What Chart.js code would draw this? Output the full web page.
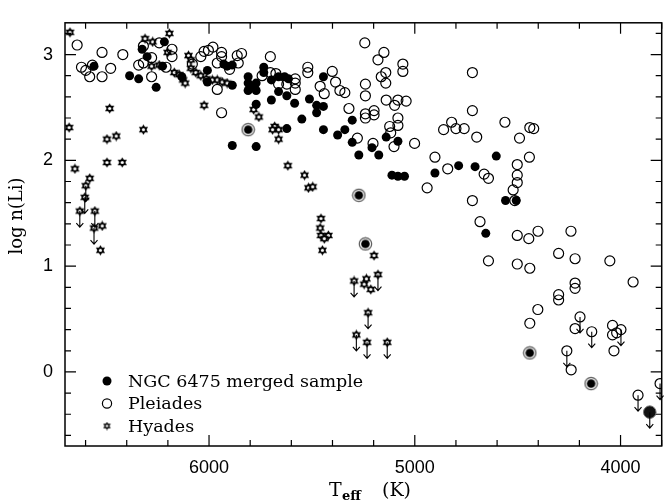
<!DOCTYPE html>
<html>
<head>
<meta charset="utf-8">
<script src="https://cdn.jsdelivr.net/npm/chart.js@4.4.1/dist/chart.umd.min.js"></script>
<style>
  body { margin: 0; background: #fff; }
</style>
</head>
<body>
<canvas id="li-chart" width="669" height="501"></canvas>
<script>
// NGC 6475 merged sample
const ngcTeff = [6559, 6386, 6342, 6257, 6325, 6301, 6217, 6226, 6132, 6008, 6008, 5887, 5928, 5912, 5887,
  5810, 5810, 5810, 5771, 5771, 5792, 5771, 5887, 5771, 5622, 5734, 5734, 5697, 5662, 5633, 5614, 5662,
  5622, 5697, 5584, 5549, 5512, 5477, 5444, 5477, 5444, 5304, 5444, 5375, 5340, 5304, 5272, 5139, 5082,
  5208, 5175, 5111, 5082, 5050, 4902, 4787, 4707, 4604, 4655, 4559, 4507];
const ngcLogLi = [2.89, 2.80, 2.77, 2.69, 3.05, 2.98, 3.12, 2.89, 2.79, 2.85, 2.74, 2.71, 2.91, 2.89, 2.90,
  2.79, 2.73, 2.66, 2.73, 2.66, 2.69, 2.53, 2.14, 2.13, 2.30, 2.88, 2.83, 2.76, 2.79, 2.79, 2.77, 2.65,
  2.61, 2.57, 2.54, 2.39, 2.58, 2.52, 2.51, 2.45, 2.79, 2.38, 2.29, 2.24, 2.29, 2.17, 2.05, 2.22, 2.18,
  2.12, 2.05, 1.86, 1.85, 1.85, 1.88, 1.95, 1.94, 2.04, 1.31, 1.62, 1.62];
// NGC 6475 stars drawn with a ring
const ngcRingTeff = [5810, 5272, 5240, 4441, 4143];
const ngcRingLogLi = [2.29, 1.67, 1.21, 0.18, -0.11];
// NGC 6475 upper limit
const ngcLimTeff = [3858];
const ngcLimLogLi = [-0.38];

// Pleiades
const pleTeff = [6641, 6620, 6599, 6580, 6567, 6520, 6520, 6478, 6419, 6279, 6342, 6319, 6319, 6279, 6242,
  6180, 6180, 6209, 6081, 6040, 6024, 6003, 5981, 5939, 5939, 5960, 5900, 5858, 5863, 5842, 5960, 5939,
  5702, 5742, 5702, 5675, 5662, 5622, 5581, 5581, 5581, 5520, 5520, 5460, 5440, 5401, 5385, 5364, 5340,
  5320, 5279, 5243, 5240, 5240, 5240, 5240, 5198, 5198, 5179, 5150, 5163, 5141, 5141, 5139, 5098, 5082,
  5042, 5058, 5058, 5082, 5082, 5122, 5117, 5101, 5203, 5001, 4720, 4720, 4821, 4860, 4800, 4760, 4699,
  4562, 4441, 4422, 4491, 4902, 4443, 4502, 4840, 4663, 4642, 4502, 4502, 4522, 4514, 4940, 4720, 4683,
  4502, 4446, 4401, 4241, 4642, 4502, 4441, 4301, 4221, 4052, 4221, 4221, 3939, 4301, 4301, 4402, 4441,
  4221, 4240, 4039, 4039, 4019, 4032];
const pleLogLi = [3.09, 2.88, 2.85, 2.79, 2.90, 3.02, 2.79, 2.87, 3.00, 2.79, 2.90, 2.92, 3.08, 2.97, 3.11,
  3.05, 2.98, 2.88, 2.91, 2.98, 3.03, 3.04, 3.07, 3.02, 2.98, 2.92, 2.86, 2.92, 2.99, 3.01, 2.67, 2.45,
  2.98, 2.80, 2.83, 2.82, 2.72, 2.72, 2.77, 2.73, 2.67, 2.88, 2.83, 2.70, 2.63, 2.84, 2.74, 2.66, 2.64,
  2.49, 2.21, 3.11, 2.72, 2.61, 2.44, 2.40, 2.47, 2.43, 2.95, 3.02, 2.79, 2.83, 2.73, 2.57, 2.52, 2.57,
  2.56, 2.91, 2.84, 2.40, 2.33, 2.32, 2.26, 2.13, 2.16, 2.16, 2.83, 2.47, 2.36, 2.29, 2.30, 2.30, 2.22,
  2.36, 2.31, 2.30, 2.21, 2.03, 2.03, 1.96, 1.92, 1.87, 1.83, 1.86, 1.79, 1.72, 1.62, 1.74, 1.62, 1.42,
  1.29, 1.26, 1.33, 1.33, 1.05, 1.02, 0.98, 1.12, 1.07, 1.05, 0.84, 0.79, 0.85, 0.73, 0.68, 0.59, 0.46,
  0.41, 0.02, 0.44, 0.35, 0.37, 0.20];
const pleLimTeff = [4197, 4140, 4261, 3998, 3915, 3808];
const pleLimLogLi = [0.52, 0.38, 0.20, 0.40, -0.22, -0.11];

// Hyades
const hyaTeff = [6676, 6311, 6274, 6193, 6201, 6279, 6242, 6169, 6145, 6126, 6116, 6100, 6088, 6088, 6064,
  6040, 6013, 5984, 5960, 5936, 5912, 6024, 6483, 6680, 6496, 6451, 6319, 6496, 6422, 6652, 6580, 6519,
  6528, 5783, 5758, 5681, 5691, 5662, 5662, 5617, 5536, 5517, 5496, 5456, 5460, 5456, 5420, 5440, 5449,
  5198, 5246, 5235, 5214];
const hyaLogLi = [3.21, 3.15, 3.12, 3.20, 3.02, 2.89, 2.90, 2.83, 2.81, 2.76, 2.73, 2.99, 2.95, 2.87, 2.83,
  2.80, 2.77, 2.76, 2.76, 2.74, 2.73, 2.52, 2.49, 2.31, 2.20, 2.23, 2.29, 1.98, 1.98, 1.92, 1.83, 1.38,
  1.15, 2.48, 2.41, 2.32, 2.29, 2.29, 2.20, 1.95, 1.86, 1.74, 1.75, 1.45, 1.36, 1.29, 1.29, 1.26, 1.15,
  1.10, 0.83, 0.88, 0.78];
const hyaLimTeff = [6599, 6604, 6628, 6555, 6559, 5295, 5179, 5227, 5284, 5232, 5134];
const hyaLimLogLi = [1.76, 1.65, 1.52, 1.52, 1.36, 0.86, 0.92, 0.56, 0.35, 0.28, 0.28];

const xTicks = [4000, 5000, 6000];
const yTicks = [0, 1, 2, 3];

function pts(xs, ys) {
  return xs.map((x, i) => ({ x: x, y: ys[i] }));
}

function makeStar(size) {
  const c = document.createElement('canvas');
  c.width = c.height = size;
  const g = c.getContext('2d');
  const m = size / 2, r = size / 2 - 0.2;
  g.fillStyle = '#000';
  [0, Math.PI / 3].forEach(off => {
    g.beginPath();
    for (let k = 0; k < 3; k++) {
      const a = -Math.PI / 2 + off + k * 2 * Math.PI / 3;
      g.lineTo(m + r * Math.cos(a), m + r * Math.sin(a));
    }
    g.closePath();
    g.fill();
  });
  g.fillStyle = '#fff';
  g.beginPath();
  g.arc(m, m, r * 0.3, 0, 2 * Math.PI);
  g.fill();
  return c;
}

function makeRing() {
  const c = document.createElement('canvas');
  c.width = c.height = 15;
  const g = c.getContext('2d');
  g.strokeStyle = '#555';
  g.lineWidth = 1.2;
  g.beginPath();
  g.arc(7.5, 7.5, 6.2, 0, 2 * Math.PI);
  g.stroke();
  g.fillStyle = '#000';
  g.beginPath();
  g.arc(7.5, 7.5, 4.3, 0, 2 * Math.PI);
  g.fill();
  return c;
}

const starImg = makeStar(11);
const legendStar = makeStar(9);
const ringImg = makeRing();

// frame with inward ticks on all sides, plus axis titles and legend
const framePlugin = {
  id: 'frame',
  afterDraw(chart) {
    const { ctx, chartArea: a, scales: { x, y } } = chart;
    ctx.save();
    ctx.strokeStyle = '#000';
    ctx.lineWidth = 1.5;
    ctx.strokeRect(a.left, a.top, a.right - a.left, a.bottom - a.top);
    ctx.lineWidth = 1.2;
    ctx.beginPath();
    for (let t = 3800; t <= 6700; t += 200) {
      const px = x.getPixelForValue(t);
      const len = t % 1000 === 0 ? 11 : 6;
      ctx.moveTo(px, a.bottom); ctx.lineTo(px, a.bottom - len);
      ctx.moveTo(px, a.top); ctx.lineTo(px, a.top + len);
    }
    for (let k = -3; k <= 16; k++) {
      const py = y.getPixelForValue(k / 5);
      const len = k % 5 === 0 ? 11 : 6;
      ctx.moveTo(a.left, py); ctx.lineTo(a.left + len, py);
      ctx.moveTo(a.right, py); ctx.lineTo(a.right - len, py);
    }
    ctx.stroke();

    // axis titles
    ctx.fillStyle = '#000';
    ctx.textBaseline = 'alphabetic';
    ctx.font = '19px "DejaVu Serif"';
    ctx.fillText('T', 329, 496);
    ctx.fillText('(K)', 382, 496);
    ctx.font = 'bold 13px "DejaVu Serif"';
    ctx.fillText('eff', 342, 500);
    ctx.save();
    ctx.translate(22, 216);
    ctx.rotate(-Math.PI / 2);
    ctx.textAlign = 'center';
    ctx.font = '18px "DejaVu Serif"';
    ctx.fillText('log n(Li)', 0, 0);
    ctx.restore();

    // legend
    ctx.font = '17.5px "DejaVu Serif"';
    ctx.textBaseline = 'middle';
    ctx.beginPath();
    ctx.arc(107, 381, 4.5, 0, 2 * Math.PI);
    ctx.fill();
    ctx.lineWidth = 1.2;
    ctx.beginPath();
    ctx.arc(107, 403.5, 4.6, 0, 2 * Math.PI);
    ctx.stroke();
    ctx.drawImage(legendStar, 107 - 4.5, 426 - 4.5);
    ctx.fillText('NGC 6475 merged sample', 128, 382);
    ctx.fillText('Pleiades', 128, 404.5);
    ctx.fillText('Hyades', 128, 427);
    ctx.restore();
  }
};

// down arrows for upper limits
const arrowPlugin = {
  id: 'arrows',
  afterDatasetsDraw(chart) {
    const ctx = chart.ctx;
    ctx.save();
    ctx.beginPath();
    chart.getSortedVisibleDatasetMetas().forEach(meta => {
      if (!meta._dataset.limit) return;
      meta.data.forEach(p => {
        ctx.moveTo(p.x, p.y);
        ctx.lineTo(p.x, p.y + 16);
        ctx.moveTo(p.x - 3.5, p.y + 12);
        ctx.lineTo(p.x, p.y + 16);
        ctx.lineTo(p.x + 3.5, p.y + 12);
      });
    });
    ctx.strokeStyle = '#000';
    ctx.lineWidth = 1.1;
    ctx.stroke();
    ctx.restore();
  }
};

const openCircle = {
  pointStyle: 'circle',
  pointRadius: 5,
  backgroundColor: 'rgba(0,0,0,0)',
  borderColor: '#000',
  borderWidth: 1.2
};

let lichart = new Chart(document.getElementById('li-chart'), {
  type: 'scatter',
  data: {
    datasets: [
      { label: 'NGC 6475 merged sample', data: pts(ngcTeff, ngcLogLi), pointRadius: 4.5,
        backgroundColor: '#000', borderColor: '#000', borderWidth: 0 },
      { label: 'NGC ring', data: pts(ngcRingTeff, ngcRingLogLi), pointStyle: ringImg },
      { label: 'NGC limit', data: pts(ngcLimTeff, ngcLimLogLi), pointRadius: 6.3, limit: true,
        backgroundColor: '#111', borderColor: '#777', borderWidth: 1 },
      Object.assign({ label: 'Pleiades', data: pts(pleTeff, pleLogLi) }, openCircle),
      Object.assign({ label: 'Pleiades limit', data: pts(pleLimTeff, pleLimLogLi), limit: true }, openCircle),
      { label: 'Hyades', data: pts(hyaTeff, hyaLogLi), pointStyle: starImg },
      { label: 'Hyades limit', data: pts(hyaLimTeff, hyaLimLogLi), pointStyle: starImg, limit: true }
    ]
  },
  options: {
    responsive: false,
    animation: false,
    events: [],
    layout: { padding: { left: 0, right: 4, top: 7, bottom: 0 } },
    plugins: {
      legend: { display: false },
      tooltip: { enabled: false }
    },
    scales: {
      x: {
        type: 'linear',
        reverse: true,
        min: 3800,
        max: 6700,
        afterBuildTicks: s => { s.ticks = xTicks.map(v => ({ value: v })); },
        afterFit: s => { s.height = 55; },
        grid: { display: false, drawTicks: false },
        border: { display: false },
        ticks: { color: '#000', padding: 11, maxRotation: 0,
          callback: v => String(v),
          font: { family: 'Liberation Sans', size: 18 } }
      },
      y: {
        min: -0.7,
        max: 3.3,
        afterBuildTicks: s => { s.ticks = yTicks.map(v => ({ value: v })); },
        afterFit: s => { s.width = 65; },
        grid: { display: false, drawTicks: false },
        border: { display: false },
        ticks: { color: '#000', padding: 12,
          callback: v => String(v),
          font: { family: 'Liberation Sans', size: 18 } }
      }
    }
  },
  plugins: [framePlugin, arrowPlugin]
});
</script>
</body>
</html>
